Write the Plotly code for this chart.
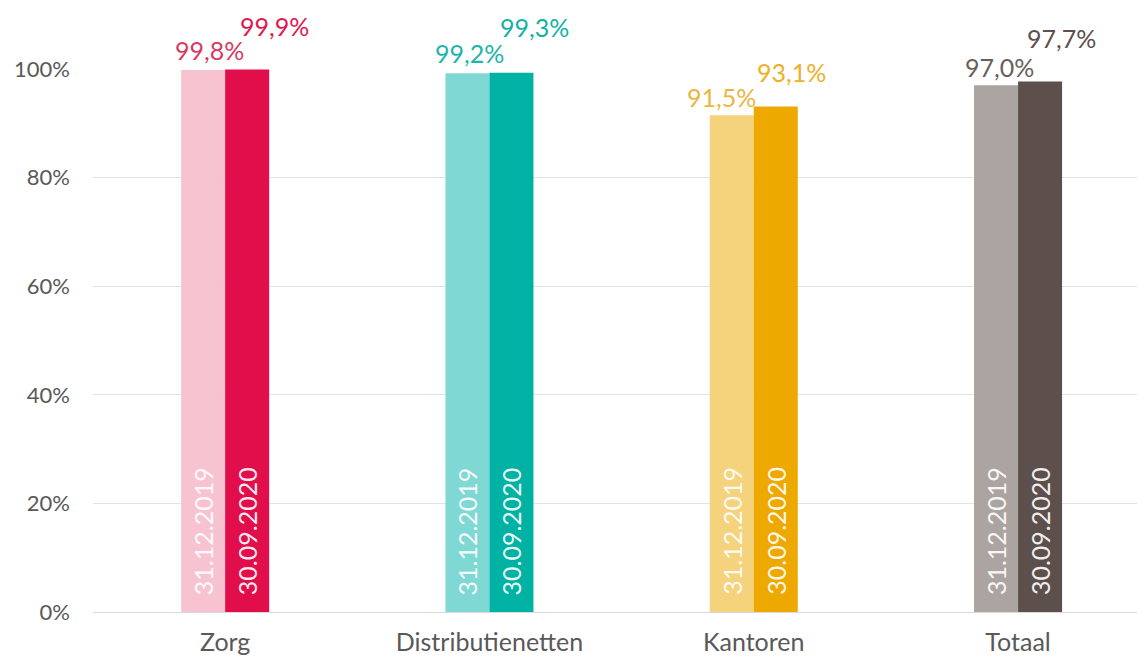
import plotly.graph_objects as go

categories = ["Zorg", "Distributienetten", "Kantoren", "Totaal"]
series_names = ["31.12.2019", "30.09.2020"]
values_2019 = [99.8, 99.2, 91.5, 97.0]
values_2020 = [99.9, 99.3, 93.1, 97.7]
y_ticks = [0, 20, 40, 60, 80, 100]

colors_2019 = ["#F8C3D1", "#7FD8D3", "#F5D27C", "#ABA4A1"]
colors_2020 = ["#E20E4B", "#00B2A3", "#EDA900", "#5D4F4C"]
label_colors_2019 = ["#D83A66", "#1DB5A8", "#EBB640", "#6A5E5B"]
label_colors_2020 = ["#E0184F", "#12B3A5", "#EDB027", "#5D4F4C"]

FONT = "Lato"
label_size = 25

# label offsets (pixels) relative to each bar top-centre
off1 = [(6, -20), (2, -20), (-10, -18), (3, -18)]
off2 = [(27, -44), (23, -46), (16, -34), (21, -43)]

fig = go.Figure()
for vals, cols, name in [(values_2019, colors_2019, series_names[0]),
                         (values_2020, colors_2020, series_names[1])]:
    fig.add_trace(go.Bar(
        x=categories, y=vals, name=name,
        marker=dict(color=cols, line=dict(width=0)),
        hoverinfo="skip",
    ))

bar_half_px = 22
annotations = []
for i, c in enumerate(categories):
    for vals, lcols, offs, sign, name in [
            (values_2019, label_colors_2019, off1, -1, series_names[0]),
            (values_2020, label_colors_2020, off2, 1, series_names[1])]:
        v = vals[i]
        dx, dy = offs[i]
        annotations.append(dict(
            x=c, y=v, xref="x", yref="y",
            text=f"{v:.1f}%".replace(".", ","),
            showarrow=False, xanchor="center", yanchor="middle",
            xshift=sign * bar_half_px + dx, yshift=-dy,
            font=dict(family=FONT, size=label_size, color=lcols[i]),
        ))
        # series name written inside the bar, near its base
        annotations.append(dict(
            x=c, y=0, xref="x", yref="y",
            text=name, textangle=-90,
            showarrow=False, xanchor="center", yanchor="bottom",
            xshift=sign * bar_half_px, yshift=15,
            font=dict(family=FONT, size=label_size, color="rgba(255,255,255,0.93)"),
        ))

fig.update_layout(
    width=1137, height=661,
    margin=dict(l=93, r=0, t=69, b=49),
    paper_bgcolor="white", plot_bgcolor="white",
    barmode="group", bargap=0.667, bargroupgap=0,
    showlegend=False,
    annotations=annotations,
    font=dict(family=FONT, size=label_size, color="#595959"),
)
fig.update_xaxes(
    range=[-0.5, 3.45], showgrid=False, showline=True,
    linecolor="#D9D9D9", linewidth=1, ticks="", ticklabelstandoff=8,
    tickfont=dict(family=FONT, size=label_size, color="#595959"),
    fixedrange=True,
)
fig.update_yaxes(
    range=[0, 100], tickvals=y_ticks, ticktext=[f"{t}%" for t in y_ticks],
    showgrid=True, gridcolor="#E3E3E3", gridwidth=1, zeroline=False,
    showline=False, ticks="", ticklabelstandoff=22,
    tickfont=dict(family=FONT, size=22, color="#595959"),
    fixedrange=True,
)

fig.write_html(
    "out.html",
    config={"displayModeBar": False},
    post_script="document.body.style.margin='0px';document.body.style.overflow='hidden';",
)
